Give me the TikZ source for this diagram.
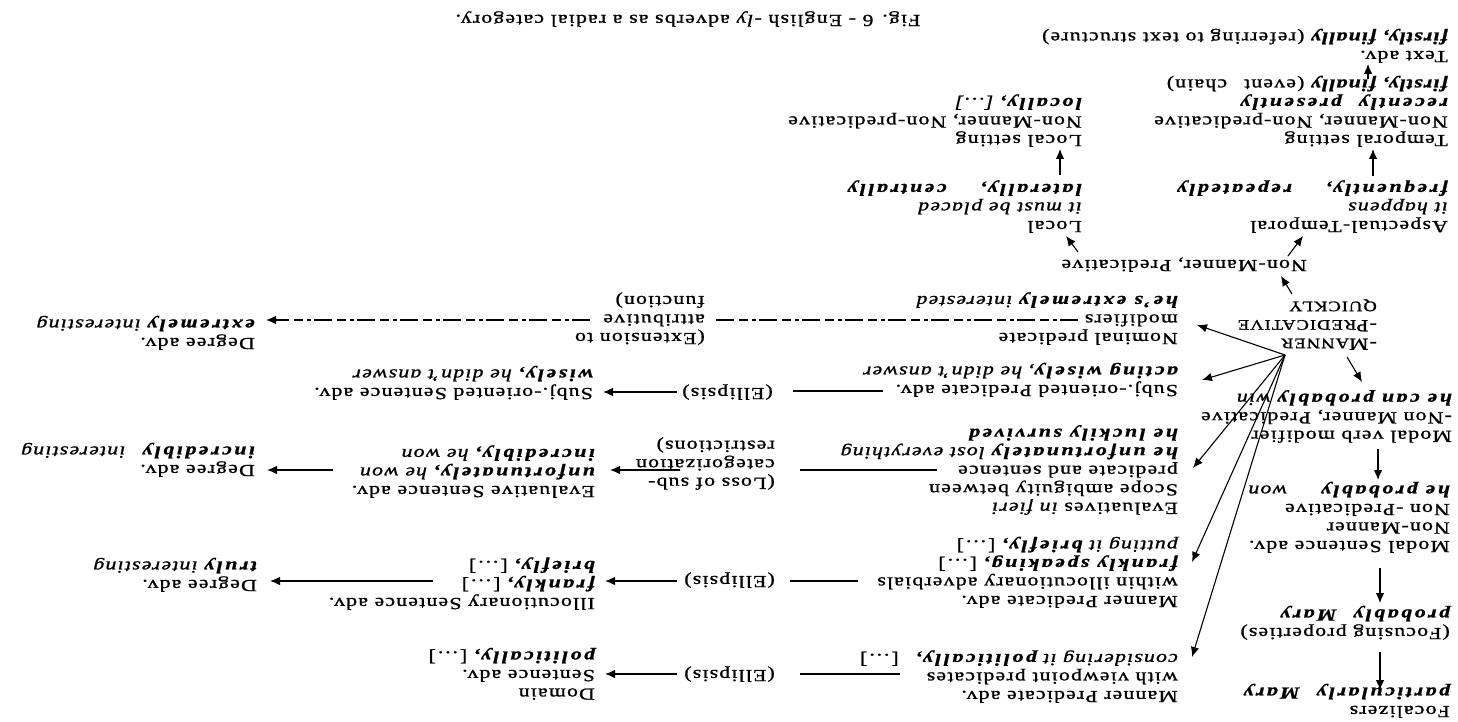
\documentclass[tikz,border=0pt]{standalone}
\usepackage{fontspec}
\setmainfont{Liberation Serif}[FakeStretch=1.28,LetterSpace=7,FakeBold=1.2]
\usetikzlibrary{arrows.meta,calc}
% bold italic, spaced out
\newcommand{\bsp}[1]{{\bfseries\itshape\addfontfeature{LetterSpace=15}#1}}
\newcommand{\ex}[1]{{\itshape #1}}
\newcommand{\lsc}[1]{{\fontsize{14.5}{16}\selectfont #1}}
\begin{document}
\begin{tikzpicture}[x=1pt,y=-1pt,
    every node/.style={rotate=180,inner sep=0pt,align=left,anchor=north west,
      font=\fontsize{17}{18.5}\selectfont},
    arr/.style={-{Latex[length=10pt,width=8.5pt]},line width=1.1pt},
    link/.style={line width=1.1pt},
    brk/.style={line width=1.1pt,dash pattern=on 18pt off 3pt on 4pt off 4pt on 9pt off 5pt}]

  \useasboundingbox (0,0) rectangle (1458,722);

  % prototype and the modal chain
  \node (proto) at (1377,350) {-M\lsc{ANNER}\\-P\lsc{REDICATIVE}\\\lsc{QUICKLY}};
  \node (modverb) at (1452,443) {Modal verb modifier\\-Non Manner, Predicative\\\ex{\bsp{he can probably} win}};
  \node (modsent) at (1450,553) {Modal Sentence adv.\\Non-Manner\\Non -Predicative\\\ex{\bsp{he probably}\qquad won}};
  \node (focus) at (1450,640) {(Focusing properties)\\\bsp{probably}\quad\bsp{Mary}};
  \node (focal) at (1450,718) {Focalizers\\\bsp{particularly}\quad\bsp{Mary}};

  % non-manner chain
  \node (nmpred) at (1307,272) {Non-Manner, Predicative};
  \node (aspect) at (1448,233) {Aspectual-Temporal\\\ex{it happens}\\\bsp{frequently,}\qquad\bsp{repeatedly}};
  \node (temporal) at (1448,147) {Temporal setting\\Non-Manner, Non-predicative\\\bsp{recently}\quad\bsp{presently}\\\ex{\textbf{firstly, finally}} (event\quad chain)};
  \node (textadv) at (1448,63) {Text adv.\\\ex{\textbf{firstly, finally}} (referring to text structure)};
  \node (local) at (1082,233) {Local\\\ex{it must be placed}\\\bsp{laterally,}\qquad\bsp{centrally}};
  \node (localset) at (1082,147) {Local setting\\Non-Manner, Non-predicative\\\bsp{locally,} \ex{[\dots]}};

  % predicate adverbs
  \node (nominal) at (1178,345) {Nominal predicate\\modifiers\\\ex{\bsp{he's extremely} interested}};
  \node (subjpred) at (1178,397) {Subj.-oriented Predicate adv.\\\ex{\bsp{acting wisely}, he didn't answer}};
  \node (scope) at (1178,515) {Evaluatives \ex{in fieri}\\Scope ambiguity between\\predicate and sentence\\\ex{\bsp{he unfortunately} lost everything}\\\bsp{he luckily survived}};
  \node (illocpred) at (1178,608) {Manner Predicate adv.\\within illocutionary adverbials\\\bsp{frankly speaking,} [\dots]\\\ex{putting it \bsp{briefly,}} [\dots]};
  \node (dompred) at (1178,703) {Manner Predicate adv.\\with viewpoint predicates\\\ex{considering it \bsp{politically,}}\quad[\dots]};

  % middle column
  \node (extension) at (705,345) {(Extension to\\attributive\\function)};
  \node (ellsubj) at (773,400) {(Ellipsis)};
  \node (loss) at (775,490) {(Loss of sub-\\categorization\\restrictions)};
  \node (ellillo) at (775,588) {(Ellipsis)};
  \node (elldom) at (775,682) {(Ellipsis)};

  % sentence adverbs
  \node (subjsent) at (593,400) {Subj.-oriented Sentence adv.\\\ex{\bsp{wisely,} he didn't answer}};
  \node (evalsent) at (595,498) {Evaluative Sentence adv.\\\ex{\bsp{unfortunately,} he won}\\\ex{\bsp{incredibly,} he won}};
  \node (illocsent) at (595,610) {Illocutionary Sentence adv.\\\bsp{frankly,} [\dots]\\\bsp{briefly,} [\dots]};
  \node (domsent) at (595,700) {Domain\\Sentence adv.\\\bsp{politically,} [\dots]};

  % degree adverbs
  \node (degnom) at (255,350) {Degree adv.\\\ex{\bsp{extremely} interesting}};
  \node (degeval) at (255,477) {Degree adv.\\\ex{\bsp{incredibly}\quad interesting}};
  \node (degillo) at (257,592) {Degree adv.\\\ex{\bsp{truly} interesting}};

  \node[anchor=center] (caption) at (688,19) {Fig. 6 - English \ex{-ly} adverbs as a radial category.};

  % arrows out of the prototype
  \coordinate (hub) at ($(proto.north west)+(-92,5)$);
  \draw[arr] ($(proto.north west)+(-85,-56)$) -- ($(nmpred.north west)+(-26,4)$);
  \draw[arr] ($(proto.north west)+(-30,7)$) -- ($(modverb.north west)+(-90,-61)$);
  \draw[arr] (hub) -- ($(nominal.north west)+(19,-20)$);
  \draw[arr] (hub) -- ($(subjpred.north west)+(24,-17)$);
  \draw[arr] (hub) -- ($(scope.north west)+(15,-47)$);
  \draw[arr] (hub) -- ($(illocpred.north west)+(14,-46)$);
  \draw[arr] (hub) -- ($(dompred.north west)+(14,-46)$);

  % modal chain
  \draw[arr] ($(modverb.north west)+(-74,6)$) -- ($(modsent.north west)+(-72,-73)$);
  \draw[arr] ($(modsent.north west)+(-70,15)$) -- ($(focus.north west)+(-70,-37)$);
  \draw[arr] ($(focus.north west)+(-70,12)$) -- ($(focal.north west)+(-70,-28)$);

  % non-manner chain
  \draw[arr] ($(nmpred.north west)+(-19,-16)$) -- ($(aspect.north west)+(-145,3)$);
  \draw[arr] ($(nmpred.north west)+(-229,-20)$) -- ($(local.north west)+(-16,3)$);
  \draw[arr] ($(aspect.north west)+(-75,-57)$) -- ($(temporal.north west)+(-75,2)$);
  \draw[arr] ($(temporal.north west)+(-80,-68)$) -- ($(textadv.north west)+(-80,1)$);
  \draw[arr] ($(local.north west)+(-22,-58)$) -- ($(localset.north west)+(-22,2)$);

  % rows
  \draw[brk] ($(nominal.north west)+(-100,-25)$) -- ($(extension.north west)+(11,-25)$);
  \draw[brk,arr] ($(extension.north west)+(-115,-25)$) -- ($(degnom.north west)+(11,-30)$);
  \draw[link] ($(subjpred.north west)+(-295,-6)$) -- ($(ellsubj.north west)+(20,-9)$);
  \draw[arr] ($(ellsubj.north west)+(-96,-8)$) -- ($(subjsent.north west)+(10,-8)$);
  \draw[link] ($(scope.north west)+(-241,-45)$) -- ($(loss.north west)+(25,-20)$);
  \draw[arr] ($(loss.north west)+(-95,-20)$) -- ($(evalsent.north west)+(15,-28)$);
  \draw[arr] ($(evalsent.north west)+(-262,-28)$) -- ($(degeval.north west)+(12,-7)$);
  \draw[link] ($(illocpred.north west)+(-320,-27)$) -- ($(ellillo.north west)+(15,-7)$);
  \draw[arr] ($(ellillo.north west)+(-98,-7)$) -- ($(illocsent.north west)+(10,-29)$);
  \draw[arr] ($(illocsent.north west)+(-162,-29)$) -- ($(degillo.north west)+(13,-11)$);
  \draw[link] ($(dompred.north west)+(-278,-29)$) -- ($(elldom.north west)+(25,-8)$);
  \draw[arr] ($(elldom.north west)+(-98,-8)$) -- ($(domsent.north west)+(10,-26)$);

\end{tikzpicture}
\end{document}
